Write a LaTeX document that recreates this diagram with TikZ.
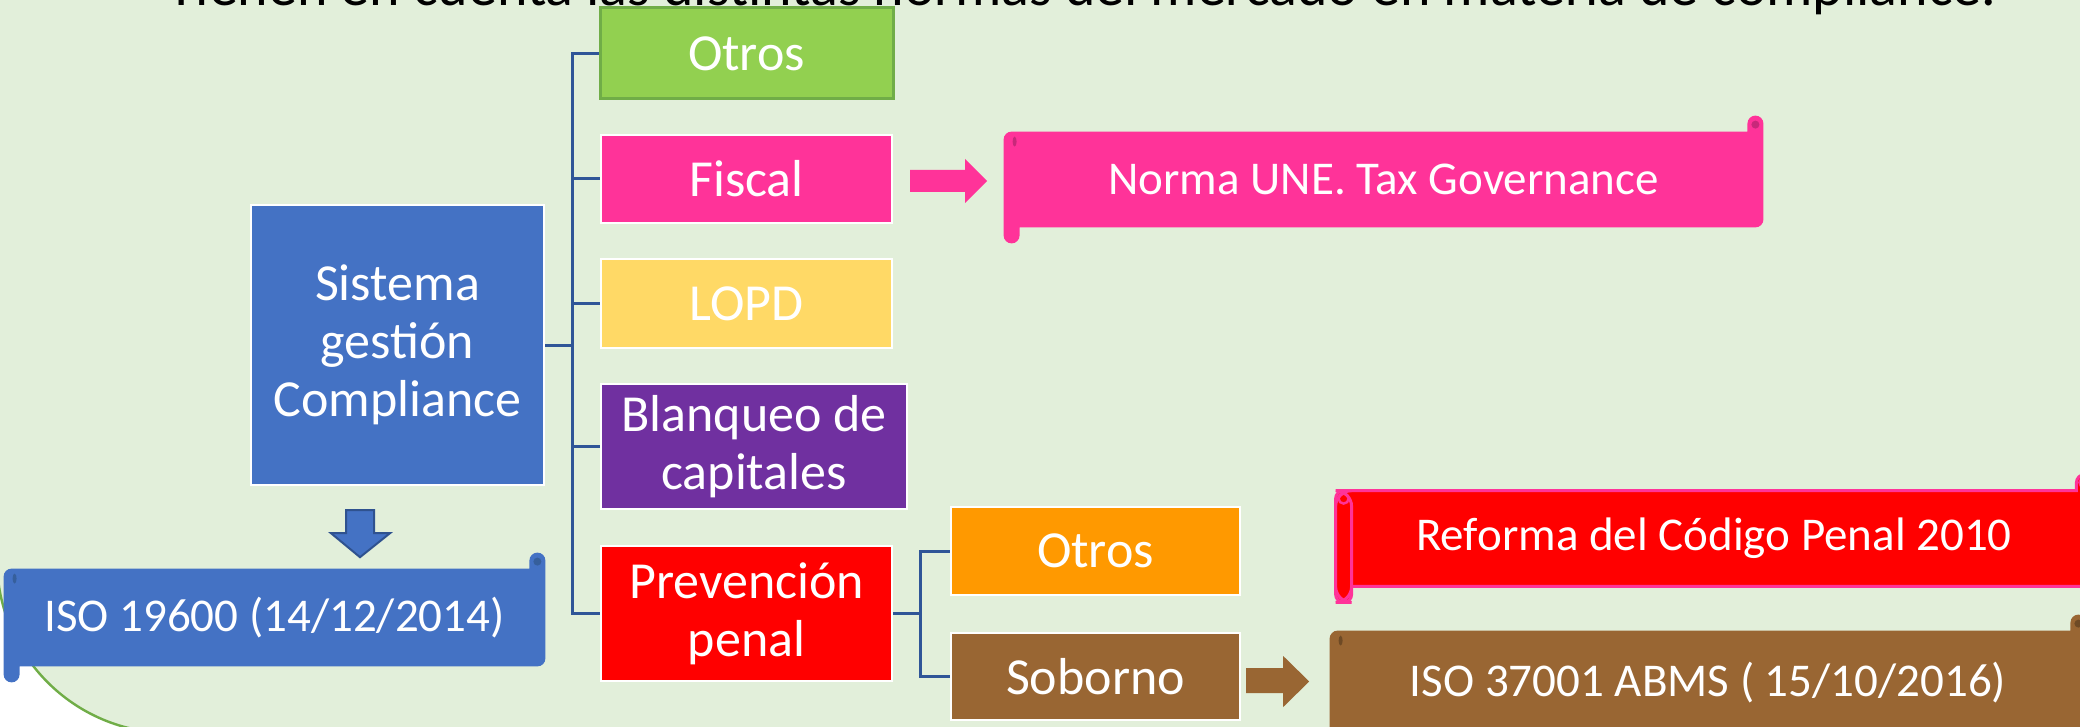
\documentclass[tikz,border=0pt]{standalone}
\usepackage{fontspec}
\setmainfont{Carlito}
\usetikzlibrary{calc}
\pgfdeclarelayer{back}
\pgfsetlayers{back,main}
\definecolor{bgc}{HTML}{E2EFDA}
\definecolor{cblue}{HTML}{4472C4}
\definecolor{cbluedk}{HTML}{2F528F}
\definecolor{cbluemk}{HTML}{365F9C}
\definecolor{cline}{HTML}{2F5597}
\definecolor{cgreen}{HTML}{92D050}
\definecolor{cgreendk}{HTML}{70AD47}
\definecolor{cpink}{HTML}{FF3399}
\definecolor{cpinkdk}{HTML}{C8287A}
\definecolor{cyel}{HTML}{FFD966}
\definecolor{cpurp}{HTML}{7030A0}
\definecolor{cred}{HTML}{FF0000}
\definecolor{corange}{HTML}{FF9900}
\definecolor{cbrown}{HTML}{996633}
\definecolor{cbrowndk}{HTML}{6E4A25}
\newcommand{\scrollshape}[2]{%
  \path[#2] ($(#1.north west)+(0,8)$) arc[start angle=180,end angle=270,radius=8]
    -- ($(#1.north east)+(-16,0)$) -- ++(0,-8) arc[start angle=180,end angle=360,radius=8]
    -- ($(#1.south east)+(0,-8)$) arc[start angle=0,end angle=90,radius=8]
    -- ($(#1.south west)+(16,0)$) -- ++(0,8) arc[start angle=0,end angle=180,radius=8] -- cycle;}
\newcommand{\scrollmarks}[2]{%
  \fill[#2] ($(#1.north west)+(11,10)$) ellipse[x radius=2,y radius=5];
  \fill[#2] ($(#1.north east)+(-8,-7)$) circle[radius=4];}
\begin{document}
\begin{tikzpicture}[x=0.5pt,y=-0.5pt,
  box/.style={draw=white,line width=1.2pt,text=white,align=center,inner sep=0pt,
    font=\fontsize{26}{29}\selectfont},
  scrolltext/.style={text=white,inner sep=0pt,font=\fontsize{23.5}{26}\selectfont},
  conn/.style={draw=cline,line width=1.5pt},
  ]
\useasboundingbox (0,0) rectangle (2080,727);

% title (cut at top)
\node[anchor=base,inner sep=0pt,font=\fontsize{29}{30}\selectfont] (title) at (1082,6)
  {Tienen en cuenta las distintas normas del mercado en materia de compliance.};

% main boxes
\node[box,fill=cblue,minimum width=146.5pt,minimum height=140pt] (main) at (397.5,345)
  {Sistema\\gestión\\Compliance};
\node[box,fill=cgreen,draw=cgreendk,line width=1.5pt,minimum width=146.5pt,minimum height=45.5pt] (otros) at (746.5,53.5) {Otros};
\node[box,fill=cpink,minimum width=145.5pt,minimum height=44pt] (fiscal) at (746.5,179) {Fiscal};
\node[box,fill=cyel,minimum width=145.5pt,minimum height=44.5pt] (lopd) at (746.5,303.5) {LOPD};
\node[box,fill=cpurp,minimum width=153pt,minimum height=62.5pt] (blanq) at (754,446.5) {Blanqueo de\\capitales};
\node[box,fill=cred,minimum width=145.5pt,minimum height=67.5pt] (prev) at (746.5,613.5) {Prevención\\penal};
\node[box,fill=corange,minimum width=144.5pt,minimum height=44pt] (otrosb) at (1095.5,551) {Otros};
\node[box,fill=cbrown,minimum width=144.5pt,minimum height=43.5pt] (sob) at (1095.5,676.5) {Soborno};

% scroll nodes (text only, shapes on back layer)
\node[scrolltext,minimum width=379.5pt,minimum height=47.5pt] (une) at (1383.5,179.5) {Norma UNE. Tax Governance};
\node[scrolltext,minimum width=270.5pt,minimum height=48.5pt] (iso196) at (274.5,617.5) {ISO 19600 (14/12/2014)};
\node[scrolltext,minimum width=378pt,minimum height=47.5pt] (reforma) at (1714,538.5) {Reforma del Código Penal 2010};
\node[scrolltext,minimum width=378pt,minimum height=52pt] (iso370) at (1708,683) {ISO 37001 ABMS ( 15/10/2016)};

% connectors
\coordinate (tr) at (572,345);
\coordinate (st) at (920,613.5);
\draw[conn] (main.east) -- (tr);
\draw[conn] (otros.west) -| (tr);
\draw[conn] (fiscal.west) -| (tr);
\draw[conn] (lopd.west) -| (tr);
\draw[conn] (blanq.west) -| (tr);
\draw[conn] (prev.west) -| (tr);
\draw[conn] (prev.east) -- (st);
\draw[conn] (otrosb.west) -| (st);
\draw[conn] (sob.west) -| (st);

% block arrows
\fill[cpink] ($(fiscal.east)+(17,-9)$) -- ++(55,0) -- ++(0,-11) -- ++(22,22) -- ++(-22,22)
  -- ++(0,-11) -- ++(-55,0) -- cycle;
\fill[cbrown] ($(sob.east)+(5,-8.5)$) -- ++(37,0) -- ++(0,-12) -- ++(26,25.5) -- ++(-26,25.5)
  -- ++(0,-14) -- ++(-37,0) -- cycle;
\filldraw[fill=cblue,draw=cbluedk,line width=1pt] ($(main.south)+(-51.5,24)$) -- ++(28,0) -- ++(0,23)
  -- ++(16,0) -- ++(-30,24) -- ++(-29,-24) -- ++(15,0) -- cycle;

\begin{pgfonlayer}{back}
  \fill[bgc] (0,0) rectangle (2080,727);
  \begin{scope}
    \clip (-5,565) rectangle (140,740);
    \fill[white] (-5,565) rectangle (140,740);
    \fill[bgc] (170,560) circle[radius=173];
    \draw[cgreendk,line width=1.2pt] (170,560) circle[radius=173];
  \end{scope}
  % scrolls
  \scrollshape{une}{fill=cpink}
  \scrollmarks{une}{cpinkdk}
  \scrollshape{iso196}{fill=cblue}
  \scrollmarks{iso196}{cbluemk}
  \scrollshape{iso370}{fill=cbrown}
  \scrollmarks{iso370}{cbrowndk}
  \scrollshape{reforma}{fill=cred,draw=cpink,line width=1.5pt}
  \draw[cpink,line width=1.5pt,fill=cred,rounded corners=8pt]
    (reforma.north west) rectangle ($(reforma.south west)+(16,16)$);
  \draw[cpink,line width=1.2pt] ($(reforma.north west)+(8,8)$) circle[radius=5];
  \draw[cpink,line width=1.2pt] ($(reforma.north east)+(-8,-8)$) circle[radius=5];
\end{pgfonlayer}
\end{tikzpicture}
\end{document}
